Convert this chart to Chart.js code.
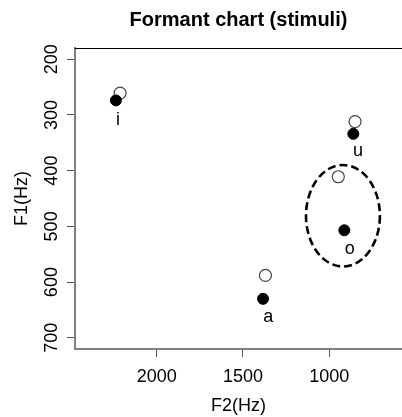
<!DOCTYPE html>
<html>
<head>
<meta charset="utf-8">
<script src="https://cdn.jsdelivr.net/npm/chart.js@4.4.1/dist/chart.umd.min.js"></script>
<style>
  html, body { margin: 0; padding: 0; background: #fff; }
  #wrap { width: 402px; height: 417px; }
</style>
</head>
<body>
<div id="wrap"><canvas id="chart" width="402" height="417"></canvas></div>
<script>
const vowels = ["i", "u", "o", "a"];
// filled = produced, open = stimuli target
const f2Filled = [2236, 861, 913, 1384];
const f1Filled = [274, 334, 507, 630];
const f2Open = [2212, 851, 948, 1370];
const f1Open = [261, 312, 411, 588];
const labelF2 = [2224, 834, 882, 1353];
const labelF1 = [309, 365, 540, 662];
const xTicks = [2000, 1500, 1000];
const yTicks = [200, 300, 400, 500, 600, 700];
const ellipseCenter = [921, 481];
const ellipseRadius = [214, 91];

const FONT = '"Liberation Sans", Arial, sans-serif';
const AXIS = "#808080";
const TICK = "#555";

const toPoints = (xs, ys) => xs.map((x, i) => ({ x, y: ys[i] }));

// top frame line, vowel labels and the dashed ellipse round "o"
const extras = {
  id: "extras",
  afterDatasetsDraw(chart) {
    const { ctx, chartArea, scales } = chart;
    const { x, y } = scales;
    ctx.save();

    ctx.strokeStyle = "#000";
    ctx.lineWidth = 1;
    ctx.beginPath();
    ctx.moveTo(chartArea.left, chartArea.top + 0.5);
    ctx.lineTo(chartArea.right, chartArea.top + 0.5);
    ctx.stroke();

    ctx.fillStyle = "#000";
    ctx.font = `18px ${FONT}`;
    ctx.textAlign = "center";
    ctx.textBaseline = "middle";
    vowels.forEach((v, i) => {
      ctx.fillText(v, x.getPixelForValue(labelF2[i]), y.getPixelForValue(labelF1[i]));
    });

    const cx = x.getPixelForValue(ellipseCenter[0]);
    const cy = y.getPixelForValue(ellipseCenter[1]);
    const rx = Math.abs(x.getPixelForValue(ellipseCenter[0] + ellipseRadius[0]) - cx);
    const ry = Math.abs(y.getPixelForValue(ellipseCenter[1] + ellipseRadius[1]) - cy);
    ctx.setLineDash([8, 4]);
    ctx.lineWidth = 2.6;
    ctx.beginPath();
    ctx.ellipse(cx, cy, rx, ry, 0, 0, Math.PI * 2);
    ctx.stroke();

    ctx.restore();
  },
};

new Chart(document.getElementById("chart"), {
  type: "scatter",
  data: {
    datasets: [
      {
        label: "produced",
        data: toPoints(f2Filled, f1Filled),
        pointRadius: 5.5,
        pointBackgroundColor: "#000",
        pointBorderColor: "#000",
        pointBorderWidth: 1,
      },
      {
        label: "stimuli",
        data: toPoints(f2Open, f1Open),
        pointRadius: 6,
        pointBackgroundColor: "rgba(0,0,0,0)",
        pointBorderColor: "#444",
        pointBorderWidth: 1.2,
      },
    ],
  },
  options: {
    responsive: false,
    animation: false,
    layout: { padding: 0, autoPadding: false },
    plugins: {
      legend: { display: false },
      tooltip: { enabled: false },
      title: {
        display: true,
        fullSize: false,
        text: "Formant chart (stimuli)",
        color: "#000",
        font: { family: FONT, size: 20, weight: "bold" },
        padding: { top: 8, bottom: 16 },
      },
    },
    scales: {
      x: {
        type: "linear",
        reverse: true,
        min: 579,
        max: 2473,
        afterBuildTicks: (s) => { s.ticks = xTicks.map((value) => ({ value })); },
        afterFit: (s) => { s.height = 68; },
        grid: { drawOnChartArea: false, tickLength: 8, color: TICK },
        border: { display: true, color: AXIS, width: 2 },
        ticks: {
          color: "#000",
          padding: 9,
          font: { family: FONT, size: 18 },
          callback: (v) => String(v),
        },
        title: {
          display: true,
          text: "F2(Hz)",
          color: "#000",
          font: { family: FONT, size: 18 },
          padding: { top: 0, bottom: 0 },
        },
      },
      y: {
        type: "linear",
        reverse: true,
        min: 180,
        max: 720,
        afterBuildTicks: (s) => { s.ticks = yTicks.map((value) => ({ value })); },
        afterFit: (s) => { s.width = 75; },
        grid: { drawOnChartArea: false, tickLength: 8, color: TICK },
        border: { display: true, color: AXIS, width: 2 },
        ticks: {
          color: "#000",
          padding: 0,
          minRotation: 90,
          maxRotation: 90,
          crossAlign: "center",
          font: { family: FONT, size: 18 },
          callback: (v) => String(v),
        },
        title: {
          display: true,
          text: "F1(Hz)",
          color: "#000",
          font: { family: FONT, size: 18 },
          padding: { top: 11, bottom: 0 },
        },
      },
    },
  },
  plugins: [extras],
});
</script>
</body>
</html>
